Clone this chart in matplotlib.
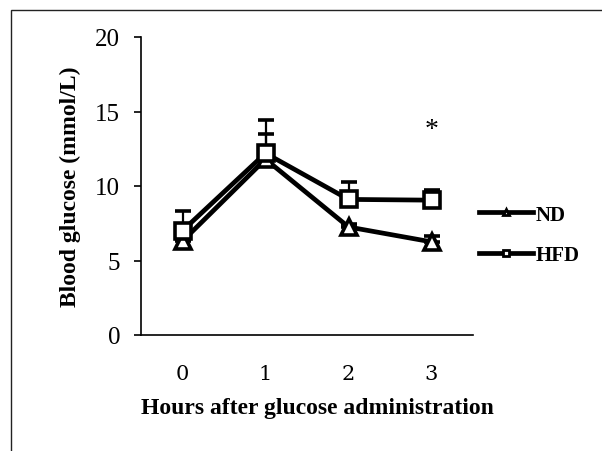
import matplotlib
matplotlib.use("Agg")
import matplotlib.pyplot as plt
from matplotlib.patches import Rectangle
from matplotlib.lines import Line2D

hours = [0, 1, 2, 3]
hour_labels = ["0", "1", "2", "3"]
nd_mean = [6.3, 11.8, 7.25, 6.25]
nd_err = [0.3, 1.7, 0.2, 0.4]
hfd_mean = [7.0, 12.2, 9.1, 9.05]
hfd_err = [1.3, 2.2, 1.15, 0.7]
yticks = [0, 5, 10, 15, 20]

plt.rcParams['font.family'] = ['Liberation Serif', 'DejaVu Serif']

fig = plt.figure(figsize=(6.02, 4.52), dpi=100)
W, H = 602, 452
ax = fig.add_axes([141 / W, 1 - 336 / H, (473 - 141) / W, (336 - 38) / H])

# outer frame
fig.patches.append(Rectangle((11 / W, -0.1), 1.2, (H - 11) / H + 0.1,
                             transform=fig.transFigure, fill=False,
                             edgecolor='#222222', linewidth=1.0))

ax.errorbar(hours, nd_mean, yerr=[[0] * 4, nd_err], color='black', lw=3.4,
            marker='^', ms=11, mfc='white', mec='black', mew=2.6,
            capsize=6, elinewidth=1.6, capthick=1.6, zorder=3)
ax.errorbar(hours, hfd_mean, yerr=[[0] * 4, hfd_err], color='black', lw=3.4,
            marker='s', ms=11, mfc='white', mec='black', mew=2.6,
            capsize=6, elinewidth=1.6, capthick=1.6, zorder=4)

ax.text(3, 13.8, '*', ha='center', va='center', fontsize=20)

ax.set_xlim(-0.5, 3.5)
ax.set_ylim(0, 20)
ax.set_yticks(yticks)
ax.set_yticklabels([str(v) for v in yticks], fontsize=18)
ax.set_xticks(hours)
ax.set_xticklabels(hour_labels, fontsize=15, family='DejaVu Serif')
ax.tick_params(axis='x', length=0, pad=21)
ax.tick_params(axis='y', length=5, width=1.2, pad=10, direction='out')
for s in ['top', 'right']:
    ax.spines[s].set_visible(False)
for s in ['left', 'bottom']:
    ax.spines[s].set_linewidth(1.2)

ax.set_ylabel('Blood glucose (mmol/L)', fontsize=17, fontweight='bold')
ax.yaxis.set_label_coords((81 - 141) / 332, 0.5)
ax.set_xlabel('Hours after glucose administration', fontsize=17, fontweight='bold')
ax.xaxis.set_label_coords((317 - 141) / 332, -(398 - 336) / 298)

h1 = Line2D([], [], color='black', lw=3.4, marker='^', ms=5, mfc='white', mec='black', mew=2)
h2 = Line2D([], [], color='black', lw=3.4, marker='s', ms=5, mfc='white', mec='black', mew=2)
fig.legend(handles=[h1, h2], labels=['ND', 'HFD'], loc='center left',
           bbox_to_anchor=(460 / W, 1 - 236 / H), frameon=False,
           prop={'weight': 'bold', 'size': 15},
           handlelength=2.6, handletextpad=0.15, labelspacing=1.0)

fig.savefig('out.png', dpi=100)
